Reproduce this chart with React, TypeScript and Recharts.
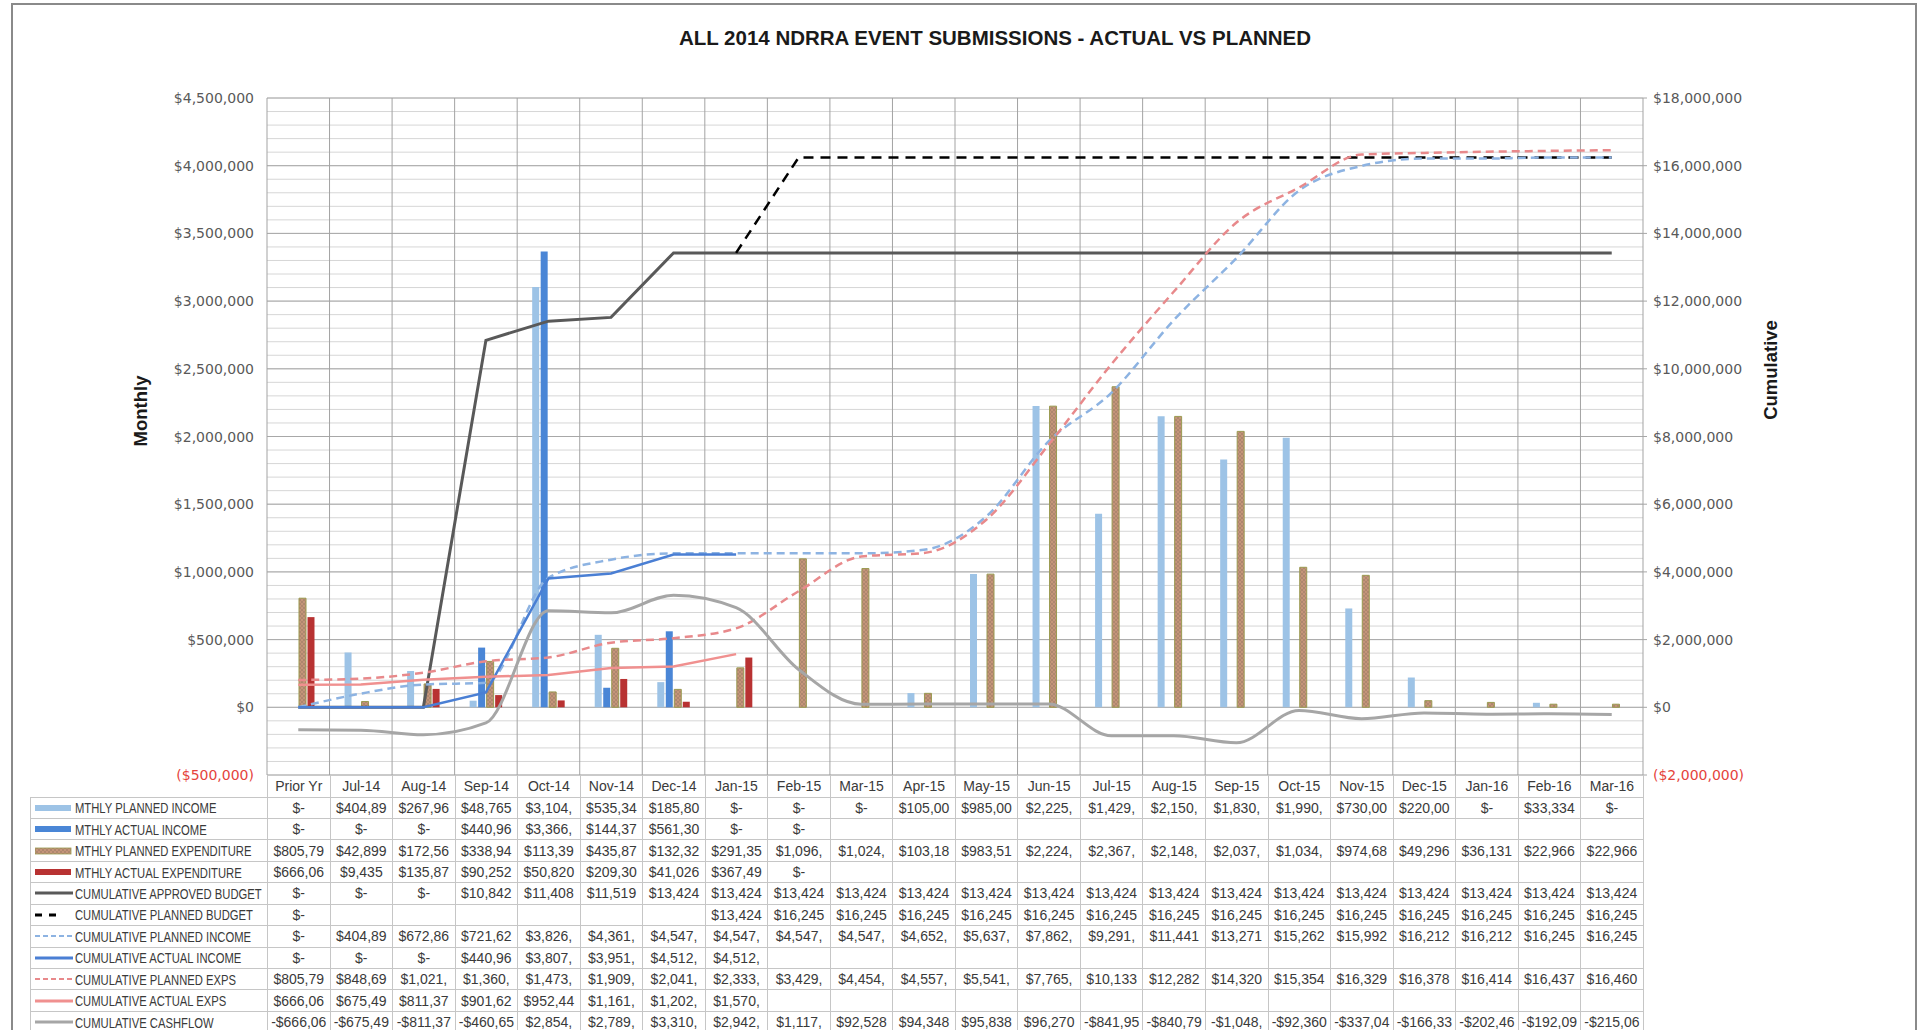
import React from 'react';
import {
  ComposedChart,
  Bar,
  Line,
  XAxis,
  YAxis,
  CartesianGrid
} from 'recharts';

// categories (months) shown along the bottom / data table header
const categories = [
  'Prior Yr', 'Jul-14', 'Aug-14', 'Sep-14', 'Oct-14', 'Nov-14', 'Dec-14',
  'Jan-15', 'Feb-15', 'Mar-15', 'Apr-15', 'May-15', 'Jun-15', 'Jul-15',
  'Aug-15', 'Sep-15', 'Oct-15', 'Nov-15', 'Dec-15', 'Jan-16', 'Feb-16', 'Mar-16'
];

// monthly series (left axis)
const mthlyPlannedIncome = [0, 404890, 267960, 48765, 3104700, 535340, 185800, 0, 0, 0, 105000, 985000, 2225000, 1429000, 2150000, 1830000, 1990000, 730000, 220000, 0, 33334, 0];
const mthlyActualIncome = [0, 0, 0, 440960, 3366400, 144370, 561300, 0, 0, null, null, null, null, null, null, null, null, null, null, null, null, null];
const mthlyPlannedExp = [805790, 42899, 172560, 338940, 113390, 435870, 132320, 291350, 1096200, 1024800, 103180, 983510, 2224100, 2367500, 2148300, 2037800, 1034100, 974680, 49296, 36131, 22966, 22966];
const mthlyActualExp = [666060, 9435, 135870, 90252, 50820, 209300, 41026, 367490, 0, null, null, null, null, null, null, null, null, null, null, null, null, null];

// cumulative series (right axis)
const cumApprovedBudget = [0, 0, 0, 10842000, 11408000, 11519000, 13424000, 13424000, 13424000, 13424000, 13424000, 13424000, 13424000, 13424000, 13424000, 13424000, 13424000, 13424000, 13424000, 13424000, 13424000, 13424000];
const cumPlannedBudget = [0, null, null, null, null, null, null, 13424000, 16245000, 16245000, 16245000, 16245000, 16245000, 16245000, 16245000, 16245000, 16245000, 16245000, 16245000, 16245000, 16245000, 16245000];
const cumPlannedIncome = [0, 404890, 672860, 721625, 3826330, 4361670, 4547470, 4547470, 4547470, 4547470, 4652470, 5637470, 7862470, 9291470, 11441470, 13271470, 15262000, 15992000, 16212000, 16212000, 16245400, 16245400];
const cumActualIncome = [0, 0, 0, 440960, 3807360, 3951730, 4512670, 4512670, null, null, null, null, null, null, null, null, null, null, null, null, null, null];
const cumPlannedExps = [805790, 848690, 1021250, 1360190, 1473580, 1909450, 2041770, 2333120, 3429300, 4454100, 4557300, 5541000, 7765100, 10133200, 12282300, 14320100, 15354200, 16329000, 16378300, 16414400, 16437400, 16460300];
const cumActualExps = [666060, 675495, 811370, 901622, 952442, 1161745, 1202771, 1570265, null, null, null, null, null, null, null, null, null, null, null, null, null, null];
const cumCashflow = [-666060, -675495, -811370, -460650, 2854560, 2789625, 3310000, 2942400, 1117900, 92528, 94348, 95838, 96270, -841950, -840790, -1048600, -92360, -337040, -166330, -202460, -192090, -215060];

// axis ticks
const leftTicks = [-500000, 0, 500000, 1000000, 1500000, 2000000, 2500000, 3000000, 3500000, 4000000, 4500000];
const rightTicks = [-2000000, 0, 2000000, 4000000, 6000000, 8000000, 10000000, 12000000, 14000000, 16000000, 18000000];
const leftMinorTicks = Array.from({ length: 51 }, (_, i) => -500000 + i * 100000);

const SERIES = [
  { key: 'mpi', label: 'MTHLY PLANNED INCOME', values: mthlyPlannedIncome, kind: 'bar', color: '#9DC3E6' },
  { key: 'mai', label: 'MTHLY ACTUAL INCOME', values: mthlyActualIncome, kind: 'bar', color: '#4A86D6' },
  { key: 'mpe', label: 'MTHLY PLANNED EXPENDITURE', values: mthlyPlannedExp, kind: 'bar', color: 'url(#hatchBrown)' },
  { key: 'mae', label: 'MTHLY ACTUAL EXPENDITURE', values: mthlyActualExp, kind: 'bar', color: '#B83232' },
  { key: 'cab', label: 'CUMULATIVE APPROVED BUDGET', values: cumApprovedBudget, kind: 'line', color: '#595959', width: 3 },
  { key: 'cpb', label: 'CUMULATIVE PLANNED BUDGET', values: cumPlannedBudget, kind: 'line', color: '#000000', width: 2.5, dash: '10 7' },
  { key: 'cpi', label: 'CUMULATIVE PLANNED INCOME', values: cumPlannedIncome, kind: 'line', color: '#8DB3E2', width: 2.5, dash: '8 5', smooth: true },
  { key: 'cai', label: 'CUMULATIVE ACTUAL INCOME', values: cumActualIncome, kind: 'line', color: '#4A7FD4', width: 2.5 },
  { key: 'cpe', label: 'CUMULATIVE PLANNED EXPS', values: cumPlannedExps, kind: 'line', color: '#E8898B', width: 2.5, dash: '8 5', smooth: true },
  { key: 'cae', label: 'CUMULATIVE ACTUAL EXPS', values: cumActualExps, kind: 'line', color: '#F0908F', width: 2.5 },
  { key: 'ccf', label: 'CUMULATIVE CASHFLOW', values: cumCashflow, kind: 'line', color: '#A6A6A6', width: 3, smooth: true }
];

const data = categories.map((name, i) => {
  const row: Record<string, any> = { name };
  SERIES.forEach((s) => { row[s.key] = s.values[i]; });
  return row;
});

// Excel style cell text: narrow cells cut the number off
const fmtCell = (v: number | null) => {
  if (v === null || v === undefined) return '';
  if (v === 0) return '$-';
  const s = (v < 0 ? '-$' : '$') + Math.abs(v).toLocaleString('en-US');
  return v < 0 ? s.slice(0, 8) : s.slice(0, 7);
};

const fmtAxis = (v: number) => {
  if (v === 0) return '$0';
  if (v < 0) return `($${Math.abs(v).toLocaleString('en-US')})`;
  return `$${v.toLocaleString('en-US')}`;
};

const TICK_FONT = "'DejaVu Sans', Verdana, sans-serif";
const TABLE_FONT = "'Liberation Sans', Arial, sans-serif";

const leftTick = (props: any) => {
  const { x, y, payload } = props;
  const v = payload.value;
  if (!leftTicks.includes(v)) return <g />;
  return (
    <text x={x} y={y} dy={5} textAnchor="end" fontSize={14} fontFamily={TICK_FONT} fill={v < 0 ? '#E5443C' : '#595959'}>
      {fmtAxis(v)}
    </text>
  );
};

const rightTick = (props: any) => {
  const { x, y, payload } = props;
  const v = payload.value;
  return (
    <text x={x} y={y} dy={5} textAnchor="start" fontSize={14} fontFamily={TICK_FONT} fill={v < 0 ? '#E5443C' : '#595959'}>
      {fmtAxis(v)}
    </text>
  );
};

const Swatch = ({ s }: { s: any }) => (
  <svg width={40} height={10} style={{ flex: '0 0 auto', marginLeft: 4 }}>
    {s.kind === 'bar' ? (
      <rect x={0} y={2} width={36} height={6} fill={s.color} stroke={s.key === 'mpe' ? '#9A9A50' : 'none'} strokeWidth={0.8} />
    ) : s.key === 'cpb' ? (
      <line x1={0} y1={5} x2={22} y2={5} stroke={s.color} strokeWidth={3} strokeDasharray="7 7" />
    ) : (
      <line x1={0} y1={5} x2={38} y2={5} stroke={s.color} strokeWidth={s.dash ? 2 : 3} strokeDasharray={s.dash ? '5 3' : undefined} />
    )}
  </svg>
);

const PLOT_LEFT = 267;
const PLOT_W = 1376;
const COL_W = PLOT_W / categories.length;
const GRID_LINE = '1px solid #c6c6c6';

const DataTable = () => (
  <table
    style={{
      position: 'absolute',
      left: 30,
      top: 775,
      borderCollapse: 'collapse',
      tableLayout: 'fixed',
      width: PLOT_LEFT - 30 + PLOT_W,
      fontFamily: TABLE_FONT,
      fontSize: 14,
      color: '#3a3a3a'
    }}
  >
    <colgroup>
      <col style={{ width: PLOT_LEFT - 30 }} />
      {categories.map((c) => <col key={c} style={{ width: COL_W }} />)}
    </colgroup>
    <tbody>
      <tr style={{ height: 22 }}>
        <td style={{ borderBottom: GRID_LINE, padding: 0 }} />
        {categories.map((c) => (
          <td key={c} style={{ borderLeft: GRID_LINE, borderRight: GRID_LINE, borderBottom: GRID_LINE, textAlign: 'center', padding: 0, whiteSpace: 'nowrap' }}>
            {c}
          </td>
        ))}
      </tr>
      {SERIES.map((s) => (
        <tr key={s.key} style={{ height: 21.45 }}>
          <td style={{ border: GRID_LINE, padding: 0, whiteSpace: 'nowrap', overflow: 'hidden' }}>
            <div style={{ display: 'flex', alignItems: 'center', fontSize: 15 }}>
              <Swatch s={s} />
              <span style={{ flex: '0 0 auto', display: 'inline-block', transform: 'scaleX(0.75)', transformOrigin: 'left center' }}>
                {s.label}
              </span>
            </div>
          </td>
          {s.values.map((v, i) => (
            <td key={i} style={{ border: GRID_LINE, padding: 0, textAlign: 'center', whiteSpace: 'nowrap', overflow: 'hidden' }}>
              {fmtCell(v)}
            </td>
          ))}
        </tr>
      ))}
    </tbody>
  </table>
);

export default function App() {
  return (
    <div style={{ position: 'absolute', left: 0, top: 0, width: 1923, height: 1030, overflow: 'hidden', background: '#fff' }}>
      <svg width={0} height={0} style={{ position: 'absolute' }}>
        <defs>
          <pattern id="hatchBrown" width={4} height={4} patternUnits="userSpaceOnUse">
            <rect width={4} height={4} fill="#C49479" />
            <path d="M0,0 L4,4 M4,0 L0,4" stroke="#A07E66" strokeWidth={0.6} />
          </pattern>
        </defs>
      </svg>

      <div style={{ position: 'absolute', left: 11, top: 3, width: 1902, height: 1040, border: '2px solid #8a8a8a' }} />

      <div
        style={{
          position: 'absolute', left: 0, top: 26, width: 1990, textAlign: 'center',
          fontFamily: "'Liberation Sans', Arial, sans-serif", fontWeight: 'bold', fontSize: 20.5, color: '#1a1a1a', lineHeight: '24px'
        }}
      >
        ALL 2014 NDRRA EVENT SUBMISSIONS - ACTUAL VS PLANNED
      </div>

      <div style={{ position: 'absolute', left: 141, top: 411, transform: 'translate(-50%, -50%) rotate(-90deg)', fontFamily: "'Liberation Sans', Arial, sans-serif", fontWeight: 'bold', fontSize: 18.5, color: '#1a1a1a', whiteSpace: 'nowrap' }}>
        Monthly
      </div>
      <div style={{ position: 'absolute', left: 1771, top: 370, transform: 'translate(-50%, -50%) rotate(-90deg)', fontFamily: "'Liberation Sans', Arial, sans-serif", fontWeight: 'bold', fontSize: 18.5, color: '#1a1a1a', whiteSpace: 'nowrap' }}>
        Cumulative
      </div>

      <div style={{ position: 'absolute', left: 0, top: 0 }}>
        <ComposedChart
          width={1923}
          height={795}
          data={data}
          margin={{ top: 98, right: 160, bottom: 20, left: 167 }}
          barSize={7}
          barGap={1.5}
        >
          <XAxis dataKey="name" xAxisId={0} hide />
          <YAxis yAxisId="major" domain={[-500000, 4500000]} ticks={leftTicks} hide allowDataOverflow />
          <YAxis
            yAxisId="left"
            orientation="left"
            width={100}
            domain={[-500000, 4500000]}
            ticks={leftMinorTicks}
            interval={0}
            axisLine={false}
            tickLine={false}
            tickSize={6}
            tickMargin={7}
            tick={leftTick}
            allowDataOverflow
          />
          <YAxis
            yAxisId="right"
            orientation="right"
            width={120}
            domain={[-2000000, 18000000]}
            ticks={rightTicks}
            interval={0}
            axisLine={false}
            tickLine={{ stroke: '#a6a6a6' }}
            tickSize={4}
            tickMargin={6}
            tick={rightTick}
            allowDataOverflow
          />
          <CartesianGrid yAxisId="left" vertical={false} stroke="#d6d6d6" />
          <CartesianGrid yAxisId="major" vertical={false} stroke="#a8a8a8" />
          <CartesianGrid
            horizontal={false}
            stroke="#a3a3a3"
            verticalCoordinatesGenerator={({ offset }: any) =>
              categories.concat(['']).map((_, i) => offset.left + (i * offset.width) / categories.length)
            }
          />

          {SERIES.filter((s) => s.kind === 'bar').map((s) => (
            <Bar
              key={s.key}
              yAxisId="left"
              dataKey={s.key}
              name={s.label}
              fill={s.color}
              stroke={s.key === 'mpe' ? '#9A9A50' : 'none'}
              strokeWidth={s.key === 'mpe' ? 1 : 0}
              isAnimationActive={false}
            />
          ))}

          {SERIES.filter((s) => s.kind === 'line').map((s) => (
            <Line
              key={s.key}
              yAxisId="right"
              dataKey={s.key}
              name={s.label}
              type={s.smooth ? 'monotone' : 'linear'}
              stroke={s.color}
              strokeWidth={s.width}
              strokeDasharray={s.dash}
              dot={false}
              activeDot={false}
              isAnimationActive={false}
            />
          ))}
        </ComposedChart>
      </div>

      <DataTable />
    </div>
  );
}
